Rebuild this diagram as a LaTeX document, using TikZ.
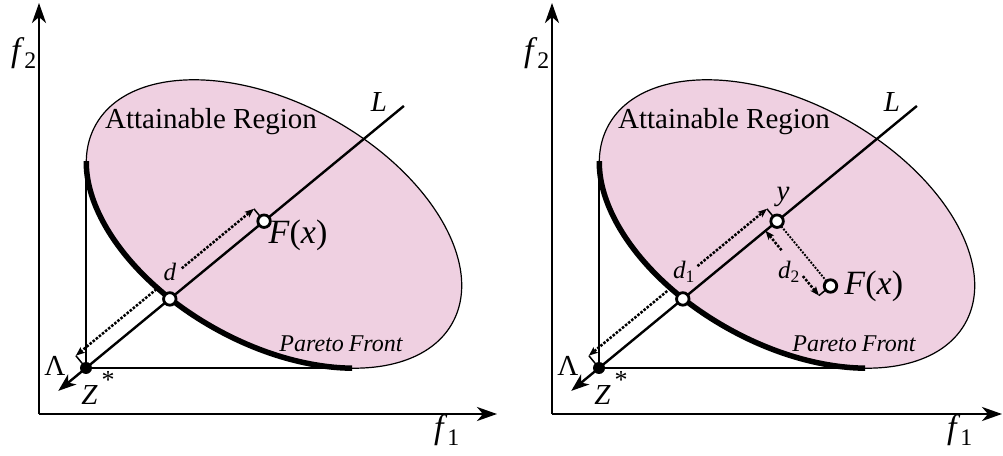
\documentclass[tikz,border=0pt]{standalone}
\usepackage{fontspec}
\setmainfont{Liberation Serif}
\usetikzlibrary{arrows.meta, calc, positioning}
\definecolor{regionpink}{RGB}{239,208,225}

\begin{document}
\begin{tikzpicture}[
    x=1pt, y=1pt,
    axis/.style={line width=2.8pt, -{Stealth[length=20pt, width=14pt, inset=6pt]}},
    region/.style={fill=regionpink, draw, line width=1.2pt},
    thinline/.style={line width=1.2pt},
    front/.style={line width=5.5pt},
    dirarrow/.style={line width=2.4pt, -{Stealth[length=18pt, width=13pt, inset=5pt]}},
    dimline/.style={dash pattern=on 2.5pt off 1.5pt, line width=2.5pt, -{Stealth[length=9pt, width=7pt, inset=2pt]}},
    projline/.style={dash pattern=on 1.9pt off 1.4pt, line width=1.9pt},
    tick/.style={line width=1.5pt},
    opendot/.style={circle, draw, fill=white, line width=2.8pt, inner sep=0pt, minimum size=12.5pt},
    fulldot/.style={circle, fill=black, inner sep=0pt, minimum size=12pt},
    lab/.style={inner sep=0pt, font=\fontsize{29}{32}\selectfont},
    axislab/.style={inner sep=0pt, font=\fontsize{34}{38}\selectfont},
    biglab/.style={inner sep=0pt, font=\fontsize{34}{38}\selectfont},
    smalllab/.style={inner sep=0pt, font=\fontsize{25}{28}\selectfont},
    frontlab/.style={inner sep=0pt, font=\fontsize{24}{27}\selectfont\itshape},
]
    \useasboundingbox (0,0) rectangle (1003,455);

    % ---------- Left panel ----------
    \coordinate (ol) at (39,41);
    \coordinate (yaxl) at (39,452);
    \coordinate (xaxl) at (497,41);
    \coordinate (cl) at (274,231);
    \coordinate (zl) at (86,87);
    \coordinate (ftopl) at (86,293);
    \coordinate (fendl) at (352,87);
    \coordinate (lendl) at ($(zl)+(39.5:412)$);
    \coordinate (lamtipl) at ($(zl)+(219.5:36)$);
    \coordinate (pfl) at ($(zl)+(39.5:108.6)$);
    \coordinate (fxl) at ($(zl)+(39.5:230.8)$);
    \coordinate (dal) at ($(zl)+(129.5:16)$);
    \coordinate (dbl) at ($(fxl)+(129.5:16)$);

    % Attainable region
    \draw[region, rotate around={-29:(cl)}] (cl) ellipse [x radius=204, y radius=120];
    \draw[thinline] (ftopl) -- (zl) -- (fendl);
    % Pareto front
    \begin{scope}
        \clip (0,0) rectangle (352,293);
        \draw[front, rotate around={-29:(cl)}] (cl) ellipse [x radius=204, y radius=120];
    \end{scope}

    % Axes
    \draw[axis] (ol) -- (yaxl);
    \draw[axis] (ol) -- (xaxl);

    % Line L and direction
    \draw[dirarrow] (lendl) -- (lamtipl);

    % Distance d
    \draw[tick] (zl) -- (dal);
    \draw[tick] (fxl) -- (dbl);
    \draw[dimline] ($(dal)!0.47!(dbl)$) -- (dal);
    \draw[dimline] ($(dal)!0.595!(dbl)$) -- (dbl);

    \node[fulldot] (zdotl) at (zl) {};
    \node[opendot] (pdotl) at (pfl) {};
    \node[opendot] (fdotl) at (fxl) {};

    % Labels
    \node[axislab] (f2l) at (24,402) {\textit{f}\textsubscript{2}};
    \node[axislab] (f1l) at (447,25) {\textit{f}\textsubscript{1}};
    \node[lab] (regl) at (211,333) {Attainable Region};
    \node[lab] (ll) at (379,353) {\textit{L}};
    \node[biglab] (fxlabl) at (298,220) {\textit{F}(\textit{x})};
    \node[smalllab] (dl) at (170,183) {\textit{d}};
    \node[frontlab] (pfrontl) at (341,111) {Pareto\hspace{5pt}Front};
    \node[lab] (laml) at (55,89) {Λ};
    \node[lab] (zlabl) at (98,67) {\textit{Z}\hspace{4pt}\raisebox{16pt}{\fontsize{26}{26}\selectfont *}};

    % ---------- Right panel ----------
    \begin{scope}[xshift=513pt]
    \coordinate (or) at (39,41);
    \coordinate (yaxr) at (39,452);
    \coordinate (xaxr) at (489,41);
    \coordinate (cr) at (274,231);
    \coordinate (zr) at (86,87);
    \coordinate (ftopr) at (86,293);
    \coordinate (fendr) at (352,87);
    \coordinate (lendr) at ($(zr)+(39.5:412)$);
    \coordinate (lamtipr) at ($(zr)+(219.5:36)$);
    \coordinate (pfr) at ($(zr)+(39.5:108.6)$);
    \coordinate (yr) at ($(zr)+(39.5:230.8)$);
    \coordinate (fxr) at ($(yr)+(-50.5:84)$);
    \coordinate (dar) at ($(zr)+(129.5:16)$);
    \coordinate (dbr) at ($(yr)+(129.5:16)$);
    \coordinate (qar) at ($(yr)+(219.5:15)$);
    \coordinate (qbr) at ($(fxr)+(219.5:15)$);

    % Attainable region
    \draw[region, rotate around={-29:(cr)}] (cr) ellipse [x radius=204, y radius=120];
    \draw[thinline] (ftopr) -- (zr) -- (fendr);
    % Pareto front
    \begin{scope}
        \clip (0,0) rectangle (352,293);
        \draw[front, rotate around={-29:(cr)}] (cr) ellipse [x radius=204, y radius=120];
    \end{scope}

    % Axes
    \draw[axis] (or) -- (yaxr);
    \draw[axis] (or) -- (xaxr);

    % Line L and direction
    \draw[dirarrow] (lendr) -- (lamtipr);

    % Distance d1 along L
    \draw[tick] (zr) -- (dar);
    \draw[tick] (yr) -- (dbr);
    \draw[dimline] ($(dar)!0.44!(dbr)$) -- (dar);
    \draw[dimline] ($(dar)!0.61!(dbr)$) -- (dbr);

    % Distance d2 from L
    \draw[projline] (yr) -- (fxr);
    \draw[tick] (fxr) -- (qbr);
    \draw[dimline] ($(qar)!0.30!(qbr)$) -- (qar);
    \draw[dimline] ($(qar)!0.70!(qbr)$) -- (qbr);

    \node[fulldot] (zdotr) at (zr) {};
    \node[opendot] (pdotr) at (pfr) {};
    \node[opendot] (ydotr) at (yr) {};
    \node[opendot] (fdotr) at (fxr) {};

    % Labels
    \node[axislab] (f2r) at (24,402) {\textit{f}\textsubscript{2}};
    \node[axislab] (f1r) at (447,25) {\textit{f}\textsubscript{1}};
    \node[lab] (regr) at (211,333) {Attainable Region};
    \node[lab] (lr) at (379,353) {\textit{L}};
    \node[lab] (ylabr) at (270,258) {\textit{y}};
    \node[biglab, right=6pt of fdotr] (fxlabr) {\textit{F}(\textit{x})};
    \node[smalllab] (d1r) at (171,183) {\textit{d}\textsubscript{1}};
    \node[smalllab] (d2r) at (276,183) {\textit{d}\textsubscript{2}};
    \node[frontlab] (pfrontr) at (341,111) {Pareto\hspace{5pt}Front};
    \node[lab] (lamr) at (55,89) {Λ};
    \node[lab] (zlabr) at (98,67) {\textit{Z}\hspace{4pt}\raisebox{16pt}{\fontsize{26}{26}\selectfont *}};
    \end{scope}
\end{tikzpicture}
\end{document}
